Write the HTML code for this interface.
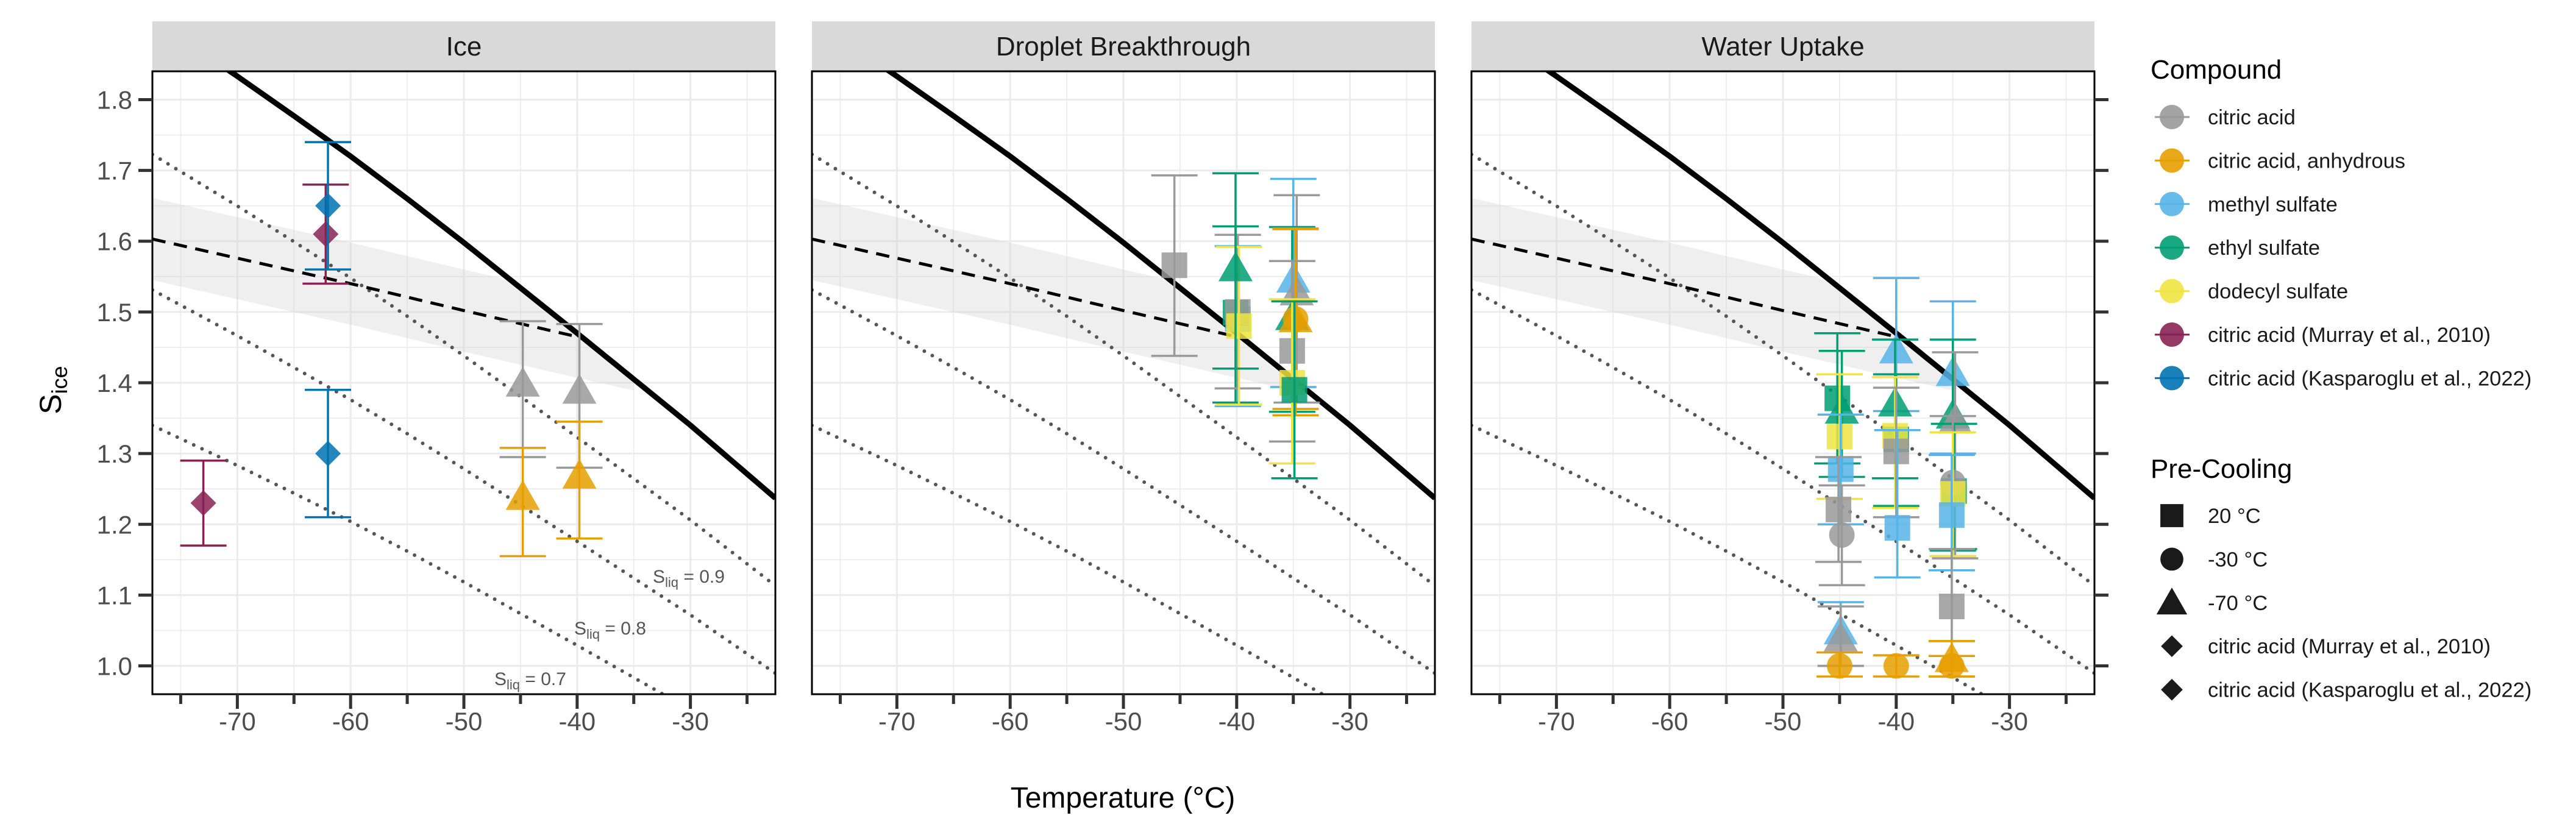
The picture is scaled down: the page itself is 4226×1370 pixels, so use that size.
<!DOCTYPE html>
<html><head><meta charset="utf-8">
<style>
html,body{margin:0;padding:0;background:#fff;}
svg{display:block;font-family:"Liberation Sans",Arial,sans-serif;}
</style></head>
<body>
<svg id="chart" width="4226" height="1370" viewBox="0 0 4226 1370" xmlns="http://www.w3.org/2000/svg">
<rect x="0" y="0" width="4226" height="1370" fill="#fff"/>
<text x="1842" y="1325" font-size="48" text-anchor="middle" fill="#000">Temperature (°C)</text>
<text transform="translate(100,640) rotate(-90)" font-size="50" text-anchor="middle" fill="#000">S<tspan font-size="36" dy="10">ice</tspan></text>
<g id="panels"></g>
<g id="legend"></g>
</svg>
<script>
// ---- data ----
const panelTitles = ["Ice", "Droplet Breakthrough", "Water Uptake"];
const xTicks = [-70, -60, -50, -40, -30];
const xMinorTicks = [-75, -65, -55, -45, -35, -25];
const yTicks = [1.0, 1.1, 1.2, 1.3, 1.4, 1.5, 1.6, 1.7, 1.8];
const yTickLabels = ["1.0", "1.1", "1.2", "1.3", "1.4", "1.5", "1.6", "1.7", "1.8"];
// water saturation curve (S_ice at S_liq = 1)
const satT = [-77.5, -72.5, -70, -65, -60, -55, -50, -45, -40, -35, -30, -22.5];
const satS = [1.914, 1.860, 1.833, 1.777, 1.72, 1.66, 1.598, 1.534, 1.47, 1.405, 1.34, 1.237];
const sliqLevels = [0.9, 0.8, 0.7];
const sliqLabels = ["0.9", "0.8", "0.7"];
// homogeneous freezing threshold (dashed) with uncertainty band
const homT = [-77.5, -60, -50, -40, -35];
const homS = [1.603, 1.54, 1.502, 1.465, 1.447];
const homBand = 0.058;
const compounds = ["citric acid", "citric acid, anhydrous", "methyl sulfate", "ethyl sulfate", "dodecyl sulfate", "citric acid (Murray et al., 2010)", "citric acid (Kasparoglu et al., 2022)"];
const compoundColors = ["#999999", "#E69F00", "#56B4E9", "#009E73", "#F0E442", "#882255", "#0072B2"];
const shapeNames = ["20 °C", "-30 °C", "-70 °C", "citric acid (Murray et al., 2010)", "citric acid (Kasparoglu et al., 2022)"];
const shapeKinds = ["square", "circle", "triangle", "diamond", "diamond"];

// Ice panel points
const iceT = [-73, -62.2, -62, -62, -44.8, -39.8, -44.8, -39.8];
const iceS = [1.23, 1.61, 1.65, 1.30, 1.395, 1.385, 1.235, 1.265];
const iceLo = [1.17, 1.54, 1.56, 1.21, 1.295, 1.28, 1.155, 1.18];
const iceHi = [1.29, 1.68, 1.74, 1.39, 1.487, 1.483, 1.308, 1.345];
const iceC = [5, 5, 6, 6, 0, 0, 1, 1];
const iceShape = [3, 3, 4, 4, 2, 2, 2, 2];

// Droplet breakthrough points
const dropT = [-45.5, -39.9, -40.1, -39.9, -39.8, -40.1, -35, -34.7, -35.1, -34.8, -34.8, -35.1, -35.1, -34.9];
const dropS = [1.566, 1.49, 1.499, 1.50, 1.48, 1.558, 1.542, 1.524, 1.489, 1.49, 1.486, 1.445, 1.40, 1.39];
const dropLo = [1.438, 1.367, 1.372, 1.392, 1.369, 1.42, 1.394, 1.372, 1.359, 1.363, 1.354, 1.317, 1.286, 1.265];
const dropHi = [1.693, 1.593, 1.621, 1.609, 1.592, 1.696, 1.688, 1.665, 1.62, 1.618, 1.617, 1.572, 1.518, 1.515];
const dropC = [0, 2, 3, 0, 4, 3, 2, 0, 3, 1, 1, 0, 4, 3];
const dropShape = [0, 0, 0, 0, 0, 2, 2, 2, 2, 1, 2, 0, 0, 0];

// Water uptake points
const wupT = [-45.2, -44.8, -45, -44.9, -45.1, -44.8, -44.9, -44.9, -45, -40, -40.1, -40, -40.1, -40, -39.9, -40, -35, -35, -34.8, -34.9, -35, -35, -35.1, -35.1, -35.1, -35.1];
const wupS = [1.378, 1.357, 1.324, 1.278, 1.221, 1.185, 1.045, 1.035, 1.0, 1.442, 1.367, 1.32, 1.325, 1.303, 1.195, 1.0, 1.41, 1.35, 1.343, 1.247, 1.259, 1.243, 1.213, 1.084, 1.006, 1.0];
const wupLo = [1.286, 1.267, 1.236, 1.20, 1.147, 1.114, 1.0, 1.0, 0.985, 1.36, 1.265, 1.226, 1.223, 1.21, 1.125, 0.985, 1.30, 1.163, 1.152, 1.165, 1.155, 1.155, 1.135, 1.035, 0.985, 0.985];
const wupHi = [1.47, 1.445, 1.412, 1.355, 1.295, 1.255, 1.09, 1.084, 1.019, 1.548, 1.461, 1.412, 1.408, 1.393, 1.333, 1.015, 1.515, 1.461, 1.443, 1.342, 1.353, 1.33, 1.298, 1.165, 1.035, 1.014];
const wupC = [3, 3, 4, 2, 0, 0, 2, 0, 1, 2, 3, 3, 4, 0, 2, 1, 2, 3, 0, 3, 0, 4, 2, 0, 1, 1];
const wupShape = [0, 2, 0, 0, 0, 1, 2, 2, 1, 2, 2, 0, 0, 0, 0, 1, 2, 2, 2, 0, 1, 0, 0, 0, 2, 1];

// ---- layout ----
const panelLefts = [250, 1332, 2414];
const panelW = 1022;
const plotTop = 117, plotBottom = 1139, stripTop = 35;
const xMin = -77.5, xMax = -22.5, yMin = 0.96, yMax = 1.84;
const NS = "http://www.w3.org/2000/svg";

function xs(p, t) { return panelLefts[p] + (t - xMin) / (xMax - xMin) * panelW; }
function ys(v) { return plotBottom - (v - yMin) / (yMax - yMin) * (plotBottom - plotTop); }
function interp(T, S, t) {
  if (t <= T[0]) return S[0] + (S[1] - S[0]) / (T[1] - T[0]) * (t - T[0]);
  for (let i = 0; i < T.length - 1; i++) if (t <= T[i + 1]) return S[i] + (S[i + 1] - S[i]) * (t - T[i]) / (T[i + 1] - T[i]);
  const n = T.length - 1; return S[n] + (S[n] - S[n - 1]) / (T[n] - T[n - 1]) * (t - T[n]);
}
function mk(tag, attrs, parent) {
  const e = document.createElementNS(NS, tag);
  for (const k in attrs) e.setAttribute(k, attrs[k]);
  if (parent) parent.appendChild(e);
  return e;
}
function shapeEl(kind, cx, cy, color, parent, scale) {
  const s = scale || 1;
  let el;
  if (kind === "square") el = mk("rect", { x: cx - 21 * s, y: cy - 21 * s, width: 42 * s, height: 42 * s, fill: color }, parent);
  else if (kind === "circle") el = mk("circle", { cx: cx, cy: cy, r: 21 * s, fill: color }, parent);
  else if (kind === "triangle") el = mk("polygon", { points: `${cx},${cy - 32 * s} ${cx + 28 * s},${cy + 17 * s} ${cx - 28 * s},${cy + 17 * s}`, fill: color }, parent);
  else el = mk("polygon", { points: `${cx},${cy - 21 * s} ${cx + 21 * s},${cy} ${cx},${cy + 21 * s} ${cx - 21 * s},${cy}`, fill: color }, parent);
  return el;
}

const root = document.getElementById("panels");
const datasets = [
  [iceT, iceS, iceLo, iceHi, iceC, iceShape],
  [dropT, dropS, dropLo, dropHi, dropC, dropShape],
  [wupT, wupS, wupLo, wupHi, wupC, wupShape]
];

for (let p = 0; p < 3; p++) {
  const L = panelLefts[p];
  const g = mk("g", {}, root);
  
  
  const clipId = "clip" + p;
  const cp = mk("clipPath", { id: clipId }, g);
  mk("rect", { x: L, y: plotTop, width: panelW, height: plotBottom - plotTop }, cp);

  const strip = mk("rect", { x: L, y: stripTop, width: panelW, height: plotTop - stripTop, fill: "#d9d9d9" }, g);
  
  
  const st = mk("text", { x: L + panelW / 2, y: 91, "font-size": 44, "text-anchor": "middle", fill: "#1a1a1a" }, g);
  st.textContent = panelTitles[p];
  
  

  const grid = mk("g", { "clip-path": `url(#${clipId})` }, g);
  
  
  for (let v = 0.95; v <= 1.851; v += 0.05) {
    const major = Math.abs(Math.round(v * 10) - v * 10) < 0.01;
    mk("line", { x1: L, x2: L + panelW, y1: ys(v), y2: ys(v), stroke: "#ebebeb", "stroke-width": major ? 3 : 1.6 }, grid);
  }
  xTicks.concat(xMinorTicks).forEach((t, i) => {
    mk("line", { x1: xs(p, t), x2: xs(p, t), y1: plotTop, y2: plotBottom, stroke: "#ebebeb", "stroke-width": i < xTicks.length ? 3 : 1.6 }, grid);
  });

  const lines = mk("g", { "clip-path": `url(#${clipId})` }, g);
  let up = [], lo = [];
  for (let t = xMin; t <= -35.001; t += 0.5) {
    const h = interp(homT, homS, t);
    up.push([xs(p, t), ys(Math.min(h + homBand, interp(satT, satS, t)))]);
    lo.push([xs(p, t), ys(h - homBand)]);
  }
  { const t = -35; const h = interp(homT, homS, t);
    up.push([xs(p, t), ys(Math.min(h + homBand, interp(satT, satS, t)))]); lo.push([xs(p, t), ys(h - homBand)]); }
  const bandPts = up.concat(lo.reverse()).map(q => q.join(",")).join(" ");
  const band = mk("polygon", { points: bandPts, fill: "#d0d0d0", "fill-opacity": 0.35 }, lines);
  
  

  sliqLevels.forEach((k, i) => {
    const pts = [];
    for (let t = xMin; t <= xMax + 0.01; t += 0.5) pts.push(xs(p, t) + "," + ys(k * interp(satT, satS, t)));
    const pl = mk("polyline", { points: pts.join(" "), fill: "none", stroke: "#555", "stroke-width": 6, "stroke-dasharray": "0 15", "stroke-linecap": "round" }, lines);
    
    
  });
  {
    const pts = [];
    for (let t = xMin; t <= -39.8; t += 0.5) pts.push(xs(p, t) + "," + ys(interp(homT, homS, t)));
    const pl = mk("polyline", { points: pts.join(" "), fill: "none", stroke: "#000", "stroke-width": 5, "stroke-dasharray": "22 14" }, lines);
    
    
  }
  {
    const pts = [];
    for (let t = xMin; t <= xMax + 0.01; t += 0.5) pts.push(xs(p, t) + "," + ys(interp(satT, satS, t)));
    const pl = mk("polyline", { points: pts.join(" "), fill: "none", stroke: "#000", "stroke-width": 9, "stroke-linejoin": "round" }, lines);
    
    
  }
  if (p === 0) {
    const lx = [1071, 942, 811], lyy = [956, 1041, 1124];
    sliqLabels.forEach((s, i) => {
      const tx = mk("text", { x: lx[i], y: lyy[i], "font-size": 30, fill: "#555" }, g);
      tx.innerHTML = 'S<tspan font-size="22" dy="7">liq</tspan><tspan dy="-7"> = ' + s + '</tspan>';
      
      
    });
  }

  const [T, S, Lo, Hi, C, Sh] = datasets[p];
  const pg = mk("g", { "clip-path": `url(#${clipId})` }, g);
  for (let i = 0; i < T.length; i++) {
    const cx = xs(p, T[i]), col = compoundColors[C[i]];
    const eb = mk("g", { stroke: col, "stroke-width": 3.5, fill: "none" }, pg);
    
    
    mk("line", { x1: cx, x2: cx, y1: ys(Lo[i]), y2: ys(Hi[i]) }, eb);
    mk("line", { x1: cx - 38, x2: cx + 38, y1: ys(Lo[i]), y2: ys(Lo[i]) }, eb);
    mk("line", { x1: cx - 38, x2: cx + 38, y1: ys(Hi[i]), y2: ys(Hi[i]) }, eb);
    const pt = shapeEl(shapeKinds[Sh[i]], cx, ys(S[i]), col, pg);
    pt.setAttribute("fill-opacity", 0.85);
    
    
  }

  const br = mk("rect", { x: L, y: plotTop, width: panelW, height: plotBottom - plotTop, fill: "none", stroke: "#000", "stroke-width": 3 }, g);
  
  

  const xa = mk("g", {}, g);
  
  
  xTicks.forEach(t => {
    mk("line", { x1: xs(p, t), x2: xs(p, t), y1: plotBottom, y2: plotBottom + 24, stroke: "#333", "stroke-width": 5 }, xa);
    const tx = mk("text", { x: xs(p, t), y: 1198, "font-size": 42, "text-anchor": "middle", fill: "#4d4d4d" }, xa);
    tx.textContent = String(t);
  });
  xMinorTicks.forEach(t => {
    mk("line", { x1: xs(p, t), x2: xs(p, t), y1: plotBottom, y2: plotBottom + 16, stroke: "#333", "stroke-width": 5 }, xa);
  });
  if (p === 0) {
    const ya = mk("g", {}, g);
    
    
    yTicks.forEach((v, i) => {
      mk("line", { x1: L - 23, x2: L, y1: ys(v), y2: ys(v), stroke: "#333", "stroke-width": 5 }, ya);
      const tx = mk("text", { x: L - 33, y: ys(v) + 15, "font-size": 42, "text-anchor": "end", fill: "#4d4d4d" }, ya);
      tx.textContent = yTickLabels[i];
    });
  }
  if (p === 2) {
    const ya = mk("g", {}, g);
    
    
    yTicks.forEach(v => {
      mk("line", { x1: L + panelW, x2: L + panelW + 23, y1: ys(v), y2: ys(v), stroke: "#333", "stroke-width": 5 }, ya);
    });
  }
}

const lg = document.getElementById("legend");
{
  const t1 = mk("text", { x: 3528, y: 129, "font-size": 44, fill: "#000" }, lg);
  t1.textContent = "Compound";
  
  
  compounds.forEach((c, i) => {
    const y = 192 + i * 71.4;
    const e = mk("g", {}, lg);
    
    
    mk("line", { x1: 3535, x2: 3592, y1: y, y2: y, stroke: compoundColors[i], "stroke-width": 3 }, e);
    mk("circle", { cx: 3563, cy: y, r: 20, fill: compoundColors[i], "fill-opacity": 0.9 }, e);
    const tx = mk("text", { x: 3622, y: y + 12, "font-size": 34.5, fill: "#1a1a1a" }, e);
    tx.textContent = c;
  });
  const t2 = mk("text", { x: 3528, y: 784, "font-size": 44, fill: "#000" }, lg);
  t2.textContent = "Pre-Cooling";
  
  
  shapeNames.forEach((s, i) => {
    const y = 846 + i * 71.4;
    const e = mk("g", {}, lg);
    
    
    const kind = shapeKinds[i];
    shapeEl(kind, 3563, y + (kind === "triangle" ? 4 : 0), "#1a1a1a", e, kind === "diamond" ? 0.85 : 0.9);
    const tx = mk("text", { x: 3622, y: y + 12, "font-size": 34.5, fill: "#1a1a1a" }, e);
    tx.textContent = s;
  });
}
</script>
</body></html>
